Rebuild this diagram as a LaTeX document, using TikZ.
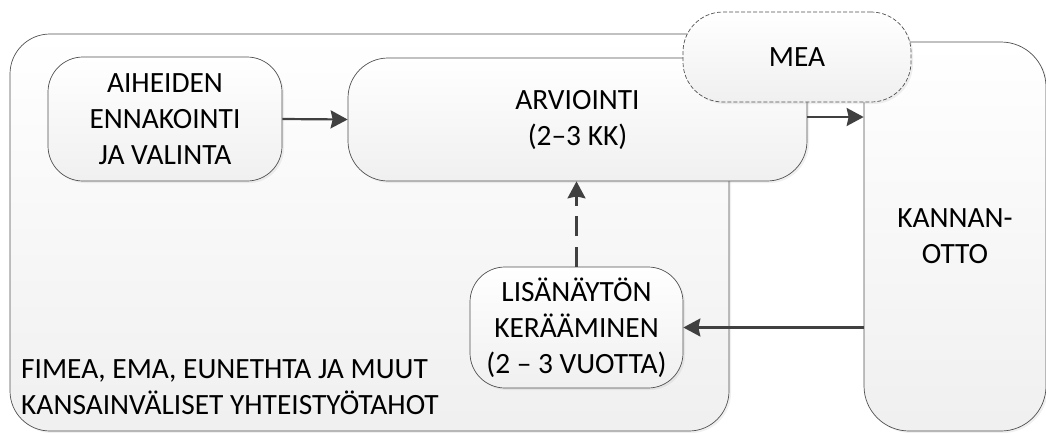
\documentclass[tikz,border=0pt]{standalone}
\usepackage{fontspec}
\setmainfont{Carlito}
\usetikzlibrary{arrows.meta,shadows}
\definecolor{edge}{HTML}{505050}
\definecolor{arr}{HTML}{404040}
\begin{document}
\begin{tikzpicture}[x=1pt,y=-1pt,
  box/.style={draw=edge,line width=0.7pt,top color=white,bottom color=black!6,
    drop shadow={shadow xshift=2pt,shadow yshift=-2pt,opacity=0.12},
    align=center,font=\fontsize{29.4}{36}\selectfont,inner sep=0pt},
  flow/.style={draw=arr,line width=2.2pt,-{Stealth[length=17pt,width=18pt,inset=2pt]}},
  txt/.style={font=\fontsize{29.4}{36}\selectfont}]
\useasboundingbox (0,0) rectangle (1046,432);
\node[box,rounded corners=40pt,minimum width=719pt,minimum height=397pt] (cont) at (369.5,232.5) {};
\node[txt,anchor=base west,align=left,inner sep=0pt] (lab) at (21,414) {FIMEA, EMA, EUNETHTA JA MUUT\\KANSAINVÄLISET YHTEISTYÖTAHOT};
\node[box,rounded corners=45pt,minimum width=182pt,minimum height=389pt] (kan) at (955,236.5) {KANNAN-\\OTTO};
\node[box,rounded corners=40pt,minimum width=459pt,minimum height=123pt] (arv) at (577.5,119.5) {ARVIOINTI\\(2–3 KK)};
\node[box,rounded corners=35pt,minimum width=234pt,minimum height=124pt] (aih) at (165,119) {AIHEIDEN\\ENNAKOINTI\\JA VALINTA};
\node[box,rounded corners=35pt,minimum width=213pt,minimum height=121pt] (lis) at (576.5,327.5) {LISÄNÄYTÖN\\KERÄÄMINEN\\(2 – 3 VUOTTA)};
\node[box,dash pattern=on 4pt off 2pt,rounded corners=40pt,minimum width=228pt,minimum height=90pt] (mea) at (797,57) {MEA};
\draw[flow] (aih.east) -- (arv.west);
\draw[flow] ([yshift=2.5pt]arv.east) -- ([yshift=2.5pt]kan.west |- arv.east);
\draw[flow] (kan.west |- lis.east) -- (lis.east);
\draw[flow,dash pattern=on 20pt off 10.5pt] (lis.north) -- (lis.north |- arv.south);
\end{tikzpicture}
\end{document}
